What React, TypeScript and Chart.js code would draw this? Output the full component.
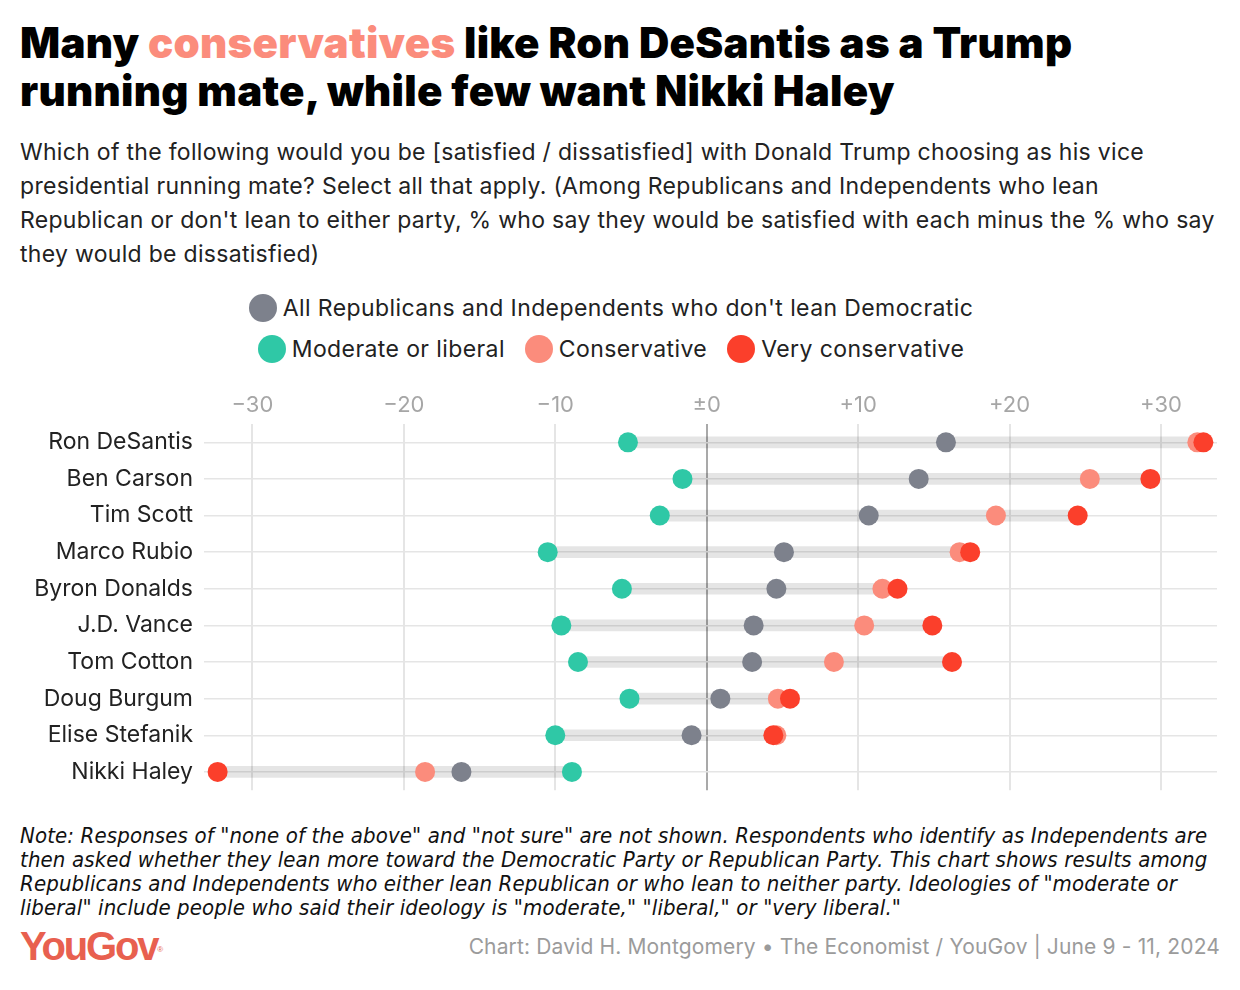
import React, { useEffect, useRef } from "react";
import { Chart, registerables } from "chart.js";

Chart.register(...registerables);

const CANDIDATES = [
  "Ron DeSantis",
  "Ben Carson",
  "Tim Scott",
  "Marco Rubio",
  "Byron Donalds",
  "J.D. Vance",
  "Tom Cotton",
  "Doug Burgum",
  "Elise Stefanik",
  "Nikki Haley",
];
const ALL_REPUBLICANS = [15.8, 14.0, 10.7, 5.1, 4.6, 3.1, 3.0, 0.9, -1.0, -16.2];
const MODERATE_LIBERAL = [-5.2, -1.6, -3.1, -10.5, -5.6, -9.6, -8.5, -5.1, -10.0, -8.9];
const CONSERVATIVE = [32.4, 25.3, 19.1, 16.7, 11.6, 10.4, 8.4, 4.7, 4.6, -18.6];
const VERY_CONSERVATIVE = [32.8, 29.3, 24.5, 17.4, 12.6, 14.9, 16.2, 5.5, 4.4, -32.3];
const X_TICKS = [-30, -20, -10, 0, 10, 20, 30];

const GRAY = "#7d818c";
const GREEN = "#2fc8a6";
const SALMON = "#fb8c7c";
const RED = "#fb3f2b";

const SANS = "Inter, 'Noto Sans', sans-serif";

const RANGES = CANDIDATES.map((_, i) => {
  const vals = [ALL_REPUBLICANS[i], MODERATE_LIBERAL[i], CONSERVATIVE[i], VERY_CONSERVATIVE[i]];
  return [Math.min(...vals), Math.max(...vals)];
});

function fmtTick(v: number) {
  if (v === 0) return "±0";
  return v > 0 ? "+" + v : "\u2212" + Math.abs(v);
}

function ChartCanvas() {
  const ref = useRef<HTMLCanvasElement | null>(null);
  useEffect(() => {
    if (!ref.current) return;
    const pointDs = (label: string, data: number[], color: string, order: number) => ({
      type: "line" as const,
      label,
      data,
      indexAxis: "y" as const,
      showLine: false,
      pointRadius: 10,
      pointHoverRadius: 10,
      pointBackgroundColor: color,
      pointBorderWidth: 0,
      borderColor: color,
      backgroundColor: color,
      order,
    });
    const chart = new Chart(ref.current, {
      type: "bar",
      data: {
        labels: CANDIDATES,
        datasets: [
          {
            type: "bar",
            label: "range",
            data: RANGES as any,
            indexAxis: "y",
            backgroundColor: "rgba(0,0,0,0.1)",
            barThickness: 11,
            borderSkipped: false,
            order: 10,
          } as any,
          pointDs("Moderate or liberal", MODERATE_LIBERAL, GREEN, 4),
          pointDs("All Republicans and Independents who don't lean Democratic", ALL_REPUBLICANS, GRAY, 3),
          pointDs("Conservative", CONSERVATIVE, SALMON, 2),
          pointDs("Very conservative", VERY_CONSERVATIVE, RED, 1),
        ],
      },
      options: {
        indexAxis: "y",
        animation: false,
        responsive: false,
        maintainAspectRatio: false,
        layout: { padding: { left: 0, right: 23, top: 0, bottom: 10 } },
        plugins: { legend: { display: false }, tooltip: { enabled: false } },
        scales: {
          x: {
            type: "linear",
            position: "top",
            min: -33.2,
            max: 33.7,
            afterBuildTicks: (s: any) => {
              s.ticks = X_TICKS.map((v) => ({ value: v }));
            },
            afterFit: (s: any) => {
              s.height = 44;
            },
            grid: {
              drawTicks: false,
              color: (ctx: any) => (ctx.tick && ctx.tick.value === 0 ? "#a9a9a9" : "#e5e5e5"),
              lineWidth: 2,
            },
            border: { display: false },
            ticks: {
              padding: 5,
              color: "#a6a6a6",
              font: { family: SANS, size: 22 },
              callback: (v: any) => fmtTick(Number(v)),
            },
          },
          y: {
            type: "category",
            afterFit: (s: any) => {
              s.width = 204;
            },
            grid: { offset: false, drawTicks: false, color: "#e5e5e5", lineWidth: 1.5 },
            border: { display: false },
            ticks: {
              padding: 11,
              color: "#222",
              font: { family: SANS, size: 23 },
            },
          },
        },
      } as any,
    });
    return () => chart.destroy();
  }, []);
  return <canvas ref={ref} width={1240} height={435} style={{ position: "absolute", left: 0, top: 380, width: 1240, height: 435 }} />;
}

function LegendItem({ color, label }: { color: string; label: string }) {
  return (
    <span style={{ display: "inline-flex", alignItems: "center", marginRight: 20 }}>
      <span style={{ display: "inline-block", width: 28, height: 28, borderRadius: "50%", background: color, marginRight: 6 }} />
      <span>{label}</span>
    </span>
  );
}

export default function App() {
  return (
    <div style={{ position: "absolute", left: 0, top: 0, width: 1240, height: 990, background: "#fff", fontFamily: SANS, color: "#1a1a1a", overflow: "hidden" }}>
      <div style={{ position: "absolute", left: 20, top: 19, fontSize: 42, fontWeight: 900, lineHeight: "48px", color: "#000", letterSpacing: 0.25, whiteSpace: "nowrap" }}>
        <div>
          Many <span style={{ color: SALMON }}>conservatives</span> like Ron DeSantis as a Trump
        </div>
        <div>running mate, while few want Nikki Haley</div>
      </div>
      <div style={{ position: "absolute", left: 20, top: 135, fontSize: 23, letterSpacing: 0.3, lineHeight: "34px", color: "#222", whiteSpace: "nowrap" }}>
        <div>Which of the following would you be [satisfied / dissatisfied] with Donald Trump choosing as his vice</div>
        <div>presidential running mate? Select all that apply. (Among Republicans and Independents who lean</div>
        <div>Republican or don't lean to either party, % who say they would be satisfied with each minus the % who say</div>
        <div>they would be dissatisfied)</div>
      </div>
      <div style={{ position: "absolute", left: 0, top: 292, width: 1220, textAlign: "center", fontSize: 23, letterSpacing: 0.4, color: "#222", lineHeight: "32px" }}>
        <div style={{ display: "flex", justifyContent: "center", paddingLeft: 22 }}>
          <LegendItem color={GRAY} label="All Republicans and Independents who don't lean Democratic" />
        </div>
        <div style={{ display: "flex", justifyContent: "center", marginTop: 9, paddingLeft: 22 }}>
          <LegendItem color={GREEN} label="Moderate or liberal" />
          <LegendItem color={SALMON} label="Conservative" />
          <LegendItem color={RED} label="Very conservative" />
        </div>
      </div>
      <ChartCanvas />
      <div style={{ position: "absolute", left: 20, top: 824, fontSize: 22, letterSpacing: 0.13, lineHeight: "24px", fontStyle: "italic", color: "#111", whiteSpace: "nowrap", fontFamily: "'Liberation Sans Narrow', 'DejaVu Sans Condensed', sans-serif" }}>
        <div>Note: Responses of "none of the above" and "not sure" are not shown. Respondents who identify as Independents are</div>
        <div>then asked whether they lean more toward the Democratic Party or Republican Party. This chart shows results among</div>
        <div>Republicans and Independents who either lean Republican or who lean to neither party. Ideologies of "moderate or</div>
        <div>liberal" include people who said their ideology is "moderate," "liberal," or "very liberal."</div>
      </div>
      <div style={{ position: "absolute", left: 20, top: 922, fontSize: 40, fontWeight: 700, color: "#e8604f", letterSpacing: -2.2, fontFamily: "'Liberation Sans', Arial, sans-serif", lineHeight: "48px" }}>
        YouGov<sup style={{ fontSize: 8, fontWeight: 400, verticalAlign: "top", position: "relative", top: 4, letterSpacing: 0 }}>®</sup>
      </div>
      <div style={{ position: "absolute", right: 20, top: 934, fontSize: 21, letterSpacing: 0.15, color: "#9b9b9b", lineHeight: "26px", whiteSpace: "nowrap" }}>
        Chart: David H. Montgomery • The Economist / YouGov | June 9 - 11, 2024
      </div>
    </div>
  );
}
